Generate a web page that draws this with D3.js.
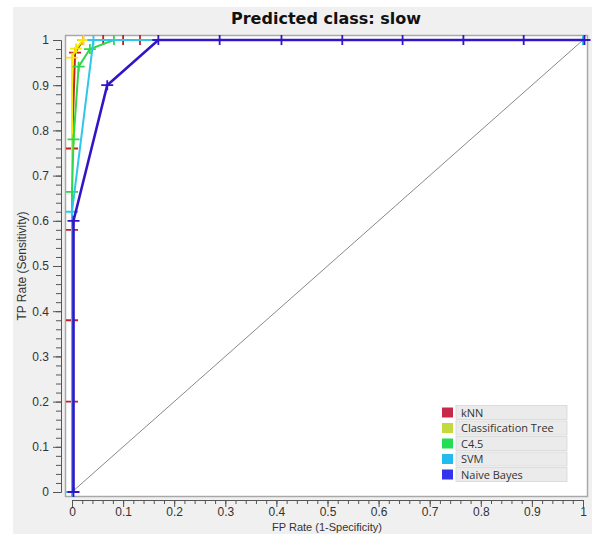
<!DOCTYPE html>
<html>
  <head>
    <meta charset="UTF-8" />
    <title>ROC - Predicted class: slow</title>
    <script src="https://d3js.org/d3.v7.min.js"></script>
    <style>
      body { margin: 0; background: #fff; }
      svg { display: block; }
    </style>
  </head>
  <body>
    <div id="main"></div>
    <script type="text/javascript">
      const width = 592;
      const height = 534;

      // series (FP rate, TP rate)
      const knnFpr = [0, 0, 0, 0, 0, 0.006, 0.022, 0.061, 0.1, 0.133, 1];
      const knnTpr = [0, 0.2, 0.38, 0.58, 0.76, 0.972, 1, 1, 1, 1, 1];
      const treeFpr = [0, 0, 0.008, 0.022, 1];
      const treeTpr = [0, 0.961, 0.981, 1, 1];
      const c45Fpr = [0, 0, 0.003, 0.013, 0.035, 0.082, 1];
      const c45Tpr = [0, 0.664, 0.78, 0.941, 0.98, 1, 1];
      const svmFpr = [0, 0, 0.042, 1];
      const svmTpr = [0, 0.62, 1, 1];
      const nbFpr = [0, 0, 0.066, 0.166, 0.286, 0.407, 0.526, 0.644, 0.763, 0.881, 1];
      const nbTpr = [0, 0.6, 0.9, 1, 1, 1, 1, 1, 1, 1, 1];

      const names = ['kNN', 'Classification Tree', 'C4.5', 'SVM', 'Naive Bayes'];
      const lineColors = ['#c4201e', '#f6e800', '#2fd84a', '#2fc6ec', '#3414c8'];
      const legendColors = ['#c8294a', '#c4d93c', '#22dd55', '#22bbee', '#3333ee'];
      const majorTicks = d3.range(0, 11).map(i => i / 10);
      const minorTicks = d3.range(0, 51).map(i => i / 50);

      const series = [
        [knnFpr, knnTpr],
        [treeFpr, treeTpr],
        [c45Fpr, c45Tpr],
        [svmFpr, svmTpr],
        [nbFpr, nbTpr]
      ].map(([xs, ys], i) => ({
        name: names[i],
        color: lineColors[i],
        points: xs.map((x, j) => [x, ys[j]])
      }));

      const svg = d3
        .select('div#main')
        .append('svg')
        .attr('width', width)
        .attr('height', height);

      // grey panel
      svg.append('rect')
        .attr('x', 13).attr('y', 7)
        .attr('width', width - 13).attr('height', height - 7)
        .attr('fill', '#f0f0f0');

      // plot frame
      svg.append('rect')
        .attr('x', 65.5).attr('y', 35.5)
        .attr('width', 522).attr('height', 461)
        .attr('fill', '#fff')
        .attr('stroke', '#a8a8a8')
        .attr('stroke-width', 1.5);

      const x = d3.scaleLinear().domain([0, 1]).range([72, 583]);
      const y = d3.scaleLinear().domain([0, 1]).range([492, 40]);

      svg.append('text')
        .attr('x', 326).attr('y', 24)
        .attr('text-anchor', 'middle')
        .attr('font-family', 'DejaVu Sans, Verdana, sans-serif')
        .attr('font-weight', 'bold')
        .attr('font-size', 16)
        .attr('fill', '#111')
        .text('Predicted class: slow');

      // axes
      function styleAxis(g) {
        g.selectAll('path.domain').attr('stroke', '#555');
        g.selectAll('line').attr('stroke', '#555');
        g.selectAll('text')
          .attr('font-family', 'Liberation Sans, Arial, sans-serif')
          .attr('font-size', 12)
          .attr('fill', '#333');
      }

      const xMinor = svg.append('g').attr('transform', 'translate(0,500)')
        .call(d3.axisBottom(x).tickValues(minorTicks).tickSize(4).tickSizeOuter(0).tickFormat(''));
      const xMajor = svg.append('g').attr('transform', 'translate(0,500)')
        .call(d3.axisBottom(x).tickValues(majorTicks).tickSize(7).tickSizeOuter(0).tickPadding(0)
          .tickFormat(d3.format('')));
      const yMinor = svg.append('g').attr('transform', 'translate(61,0)')
        .call(d3.axisLeft(y).tickValues(minorTicks).tickSize(5).tickSizeOuter(0).tickFormat(''));
      const yMajor = svg.append('g').attr('transform', 'translate(61,0)')
        .call(d3.axisLeft(y).tickValues(majorTicks).tickSize(8).tickSizeOuter(0).tickPadding(4)
          .tickFormat(d3.format('')));
      [xMinor, xMajor, yMinor, yMajor].forEach(styleAxis);

      svg.append('text')
        .attr('x', 327).attr('y', 531)
        .attr('text-anchor', 'middle')
        .attr('font-family', 'Liberation Sans, Arial, sans-serif')
        .attr('font-size', 11)
        .attr('fill', '#333')
        .text('FP Rate (1-Specificity)');

      svg.append('text')
        .attr('transform', 'translate(26,266) rotate(-90)')
        .attr('text-anchor', 'middle')
        .attr('font-family', 'Liberation Sans, Arial, sans-serif')
        .attr('font-size', 12)
        .attr('fill', '#333')
        .text('TP Rate (Sensitivity)');

      // diagonal
      svg.append('line')
        .attr('x1', x(0)).attr('y1', y(0))
        .attr('x2', x(1)).attr('y2', y(1))
        .attr('stroke', '#888')
        .attr('stroke-width', 1);

      const line = d3.line().x(d => x(d[0])).y(d => y(d[1]));

      series.forEach((s, i) => {
        const g = svg.append('g');
        g.append('path')
          .attr('d', line(s.points))
          .attr('fill', 'none')
          .attr('stroke', s.color)
          .attr('stroke-width', i === 4 ? 2.6 : 2)
          .attr('transform', i === 4 ? 'translate(1.5,0)' : null);
        g.selectAll('path.mark')
          .data(s.points)
          .join('path')
          .attr('class', 'mark')
          .attr('d', d => {
            const px = x(d[0]) + (i === 4 ? 1.5 : 0);
            const py = y(d[1]);
            return `M${px - 6},${py}H${px + 6}M${px},${py - 5}V${py + 5}`;
          })
          .attr('stroke', s.color)
          .attr('stroke-width', 1.8);
      });

      // legend
      const legend = svg.append('g').attr('transform', 'translate(440,405)');
      const rowH = 15.5;
      const rows = legend.selectAll('g')
        .data(names)
        .join('g')
        .attr('transform', (d, i) => `translate(0,${i * rowH})`);
      rows.append('rect')
        .attr('x', 16).attr('y', 0.5)
        .attr('width', 111).attr('height', rowH - 1.5)
        .attr('fill', '#ebebeb')
        .attr('stroke', '#d6d6d6')
        .attr('stroke-width', 0.8);
      rows.append('rect')
        .attr('x', 2).attr('y', 2.5)
        .attr('width', 11).attr('height', 10)
        .attr('fill', (d, i) => legendColors[i]);
      rows.append('text')
        .attr('x', 21).attr('y', 11.5)
        .attr('font-family', 'Open Sans, Noto Sans, sans-serif')
        .attr('font-size', 11)
        .attr('fill', '#333')
        .text(d => d);
    </script>
  </body>
</html>
